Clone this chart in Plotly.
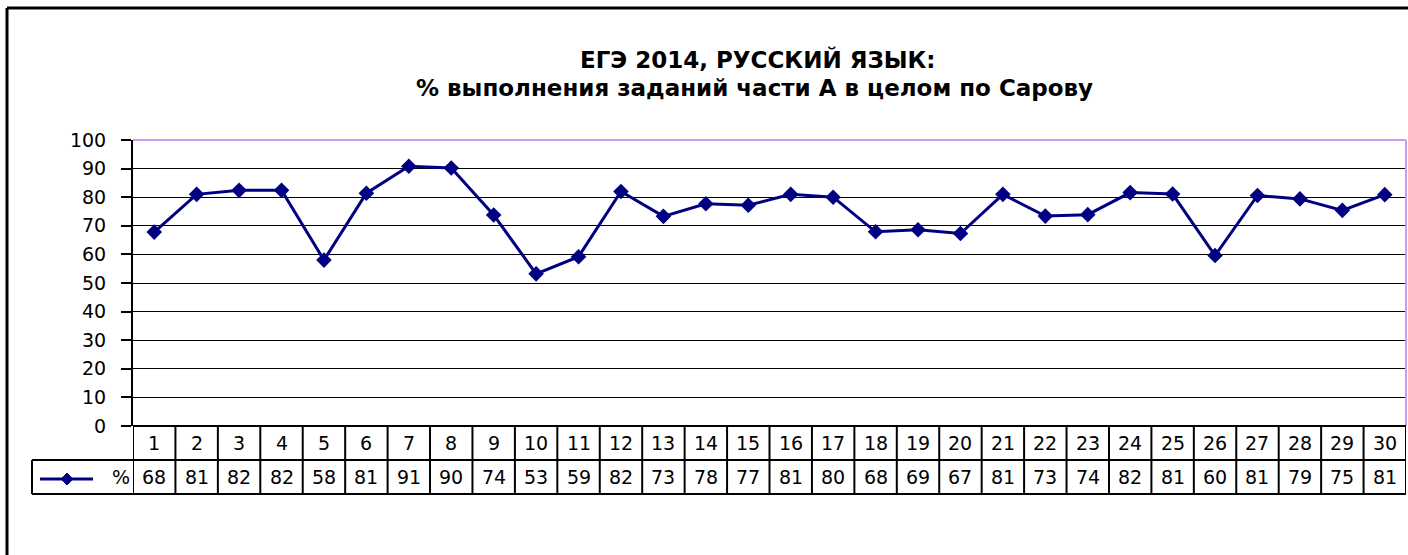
import plotly.graph_objects as go

# ---- data ----
tasks = list(range(1, 31))
values = [67.8, 81.0, 82.4, 82.4, 58.0, 81.4, 90.8, 90.2, 73.8, 53.2,
          59.2, 82.0, 73.3, 77.7, 77.2, 81.0, 80.0, 67.9, 68.6, 67.3,
          81.0, 73.4, 73.9, 81.6, 81.1, 59.6, 80.6, 79.4, 75.4, 80.9]
series_name = "%"
y_ticks = list(range(0, 101, 10))
title_lines = ["ЕГЭ 2014, РУССКИЙ ЯЗЫК:",
               "% выполнения заданий части А в целом по Сарову"]
table_labels = [str(round(v)) for v in values]

# ---- geometry (pixels) ----
W, H = 1408, 555
L, R, T, B = 133, 1406, 140, 426
ROW1, ROW2 = 460, 494
LEG_X0 = 32
FONT = "DejaVu Sans, Liberation Sans, Arial, sans-serif"
NAVY = "#000080"
PURPLE = "#C89BF5"


def px(x):
    return (x - L) / (R - L)


def py(y):
    return (B - y) / (B - T)


fig = go.Figure()
fig.add_trace(go.Scatter(
    x=tasks, y=values, mode="lines+markers", name=series_name,
    line=dict(color=NAVY, width=3),
    marker=dict(symbol="diamond", size=12, color=NAVY),
    cliponaxis=False, showlegend=False,
))

shapes = []
# outer chart frame
shapes.append(dict(type="line", xref="paper", yref="paper",
                   x0=px(7), x1=px(1420), y0=py(8), y1=py(8),
                   line=dict(color="black", width=3)))
shapes.append(dict(type="line", xref="paper", yref="paper",
                   x0=px(7), x1=px(7), y0=py(8), y1=py(570),
                   line=dict(color="black", width=3)))
# plot area border (top/right purple)
shapes.append(dict(type="line", xref="paper", yref="paper",
                   x0=0, x1=1, y0=1, y1=1,
                   line=dict(color=PURPLE, width=2)))
shapes.append(dict(type="line", xref="paper", yref="paper",
                   x0=1, x1=1, y0=0, y1=1,
                   line=dict(color=PURPLE, width=2)))
# data table horizontal lines
shapes.append(dict(type="line", xref="paper", yref="paper",
                   x0=0, x1=1, y0=0, y1=0,
                   line=dict(color="black", width=2)))
for yy in (ROW1, ROW2):
    shapes.append(dict(type="line", xref="paper", yref="paper",
                       x0=px(LEG_X0), x1=1, y0=py(yy), y1=py(yy),
                       line=dict(color="black", width=2)))
# data table vertical lines
for k in range(len(tasks) + 1):
    xv = tasks[0] - 0.5 + k
    shapes.append(dict(type="line", xref="x", yref="paper",
                       x0=xv, x1=xv, y0=0, y1=py(ROW2),
                       line=dict(color="black", width=2)))
shapes.append(dict(type="line", xref="paper", yref="paper",
                   x0=px(LEG_X0), x1=px(LEG_X0), y0=py(ROW1), y1=py(ROW2),
                   line=dict(color="black", width=2)))
# legend key in table
leg_y = py((ROW1 + ROW2) / 2 + 2)
shapes.append(dict(type="line", xref="paper", yref="paper",
                   x0=px(40), x1=px(93), y0=leg_y, y1=leg_y,
                   line=dict(color=NAVY, width=3)))
dx, dy = 6 / (R - L), 6 / (B - T)
cx = px(67)
shapes.append(dict(type="path", xref="paper", yref="paper",
                   path=f"M {cx - dx} {leg_y} L {cx} {leg_y + dy} L {cx + dx} {leg_y} L {cx} {leg_y - dy} Z",
                   fillcolor=NAVY, line=dict(color=NAVY, width=1)))

annotations = []
for t, lab in zip(tasks, table_labels):
    annotations.append(dict(x=t, xref="x", y=py((B + ROW1) / 2), yref="paper",
                            text=str(t), showarrow=False, yanchor="middle",
                            font=dict(family=FONT, size=19, color="black")))
    annotations.append(dict(x=t, xref="x", y=py((ROW1 + ROW2) / 2), yref="paper",
                            text=lab, showarrow=False, yanchor="middle",
                            font=dict(family=FONT, size=19, color="black")))
annotations.append(dict(x=px(110), xref="paper", y=py((ROW1 + ROW2) / 2), yref="paper",
                        text=series_name, showarrow=False, yanchor="middle",
                        font=dict(family=FONT, size=19, color="black")))
# title (two lines)
annotations.append(dict(x=px(758), xref="paper", y=py(59), yref="paper",
                        text=f"<b>{title_lines[0]}</b>", showarrow=False,
                        yanchor="middle", borderpad=0,
                        font=dict(family=FONT, size=23, color="black")))
annotations.append(dict(x=px(754), xref="paper", y=py(88), yref="paper",
                        text=f"<b>{title_lines[1]}</b>", showarrow=False,
                        yanchor="middle", borderpad=0,
                        font=dict(family=FONT, size=23, color="black")))

fig.update_layout(
    width=W, height=H, autosize=False,
    margin=dict(l=L, r=W - R, t=T, b=H - B, pad=0),
    paper_bgcolor="white", plot_bgcolor="white",
    font=dict(family=FONT, size=19, color="black"),
    xaxis=dict(range=[0.5, 30.5], showticklabels=False, showgrid=False,
               zeroline=False, showline=False, ticks="", fixedrange=True),
    yaxis=dict(range=[0, 100], tickvals=y_ticks, showgrid=True,
               gridcolor="black", gridwidth=1, zeroline=False,
               showline=True, linecolor="black", linewidth=2,
               ticks="outside", ticklen=10, tickcolor="black", tickwidth=1.5,
               ticklabelstandoff=11, tickfont=dict(family=FONT, size=19),
               fixedrange=True),
    shapes=shapes, annotations=annotations, showlegend=False,
)

fig.write_html("out.html",
               config={"displayModeBar": False},
               post_script="document.body.style.margin='0';"
                           "document.body.style.overflow='hidden';")
